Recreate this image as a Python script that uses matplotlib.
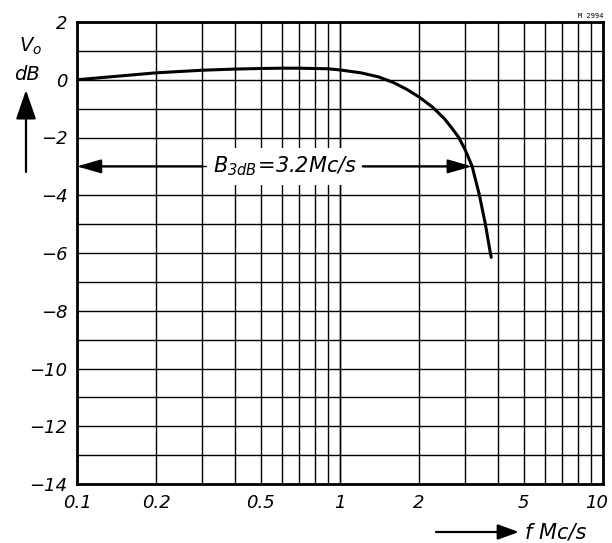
import numpy as np
import matplotlib
matplotlib.use("Agg")
import matplotlib.pyplot as plt
import matplotlib.transforms as mtransforms
from matplotlib.patches import FancyArrowPatch
from matplotlib.ticker import FixedLocator, NullFormatter

plt.rcParams['font.family'] = ['DejaVu Sans']
plt.rcParams['mathtext.fontset'] = 'custom'
plt.rcParams['mathtext.rm'] = 'DejaVu Sans:italic'
plt.rcParams['mathtext.it'] = 'DejaVu Sans:italic'

# frequency response, read in Mc/s and dB
freq = [0.1, 0.2, 0.3, 0.4, 0.5, 0.6, 0.7, 0.9, 1.0, 1.2, 1.4, 1.6, 1.8,
        2.0, 2.25, 2.5, 2.65, 2.83, 3.0, 3.18, 3.39, 3.57, 3.73, 3.76]
gain = [0.0, 0.24, 0.33, 0.37, 0.39, 0.40, 0.40, 0.38, 0.34, 0.24, 0.10,
        -0.10, -0.34, -0.60, -0.95, -1.36, -1.65, -2.0, -2.45, -3.0, -4.0,
        -5.0, -6.0, -6.15]

bw_level = -3.0
bw_text_f = 0.62
bw_left_f = (0.1, 0.30)
bw_right_f = (1.22, 3.17)

x_ticks = [0.1, 0.2, 0.5, 1, 2, 5, 10]
x_labels = ["0.1", "0.2", "0.5", "1", "2", "5", "10"]
x_grid = [m * d for d in (0.1, 1) for m in range(1, 11)]
y_ticks = list(range(2, -15, -2))
y_grid = list(range(2, -15, -1))

fig = plt.figure(figsize=(6.12, 5.43), dpi=100)
ax = fig.add_axes([77 / 612, 1 - 484 / 543, 526 / 612, 462 / 543])
ax.set_xscale("log")
ax.set_xlim(0.1, 10)
ax.set_ylim(-14, 2)

for g in x_grid:
    ax.axvline(g, color="black", lw=1.0, zorder=1)
for g in y_grid:
    ax.axhline(g, color="black", lw=1.0, zorder=1)

ax.xaxis.set_major_locator(FixedLocator(x_ticks))
ax.xaxis.set_minor_locator(FixedLocator([]))
ax.xaxis.set_minor_formatter(NullFormatter())
ax.set_xticklabels(x_labels)
ax.set_yticks(y_ticks)
ax.set_yticklabels([str(v).replace("-", "\u2212") for v in y_ticks])
ax.tick_params(length=0, labelsize=13, pad=7)
for lab in ax.get_xticklabels() + ax.get_yticklabels():
    lab.set_fontstyle("italic")
# keep the last frequency label inside the figure
last = ax.get_xticklabels()[-1]
last.set_transform(last.get_transform() +
                   mtransforms.ScaledTranslation(-6 / 100, 0, fig.dpi_scale_trans))
for s in ax.spines.values():
    s.set_linewidth(2.0)
    s.set_zorder(5)

ax.plot(freq, gain, color="black", lw=2.2, zorder=4, solid_capstyle="round",
        solid_joinstyle="round")

# bandwidth marker
ax.text(bw_text_f, bw_level, r"$B_{3dB}\!=\!3.2Mc/s$", ha="center", va="center",
        fontsize=15, zorder=6,
        bbox=dict(facecolor="white", edgecolor="none", pad=5))
arrow_kw = dict(arrowstyle="-|>,head_length=1.45,head_width=0.42", color="black",
                lw=1.6, shrinkA=0, shrinkB=0)
ax.annotate("", xy=(bw_left_f[0], bw_level), xytext=(bw_left_f[1], bw_level),
            arrowprops=arrow_kw, zorder=7)
ax.annotate("", xy=(bw_right_f[1], bw_level), xytext=(bw_right_f[0], bw_level),
            arrowprops=arrow_kw, zorder=7)

# axis captions with arrows
fig.text(31 / 612, 1 - 46 / 543, r"$V_o$", ha="center", va="center", fontsize=14)
fig.text(27 / 612, 1 - 75 / 543, "dB", ha="center", va="center", fontsize=14,
         fontstyle="italic")
fig.patches.append(FancyArrowPatch(
    (26 / 612, 1 - 172 / 543), (26 / 612, 1 - 90 / 543),
    transform=fig.transFigure, arrowstyle="-|>,head_length=0.9,head_width=0.31",
    color="black", lw=1.6, mutation_scale=20, shrinkA=0, shrinkB=0))
fig.patches.append(FancyArrowPatch(
    (436 / 612, 1 - 532 / 543), (519 / 612, 1 - 532 / 543),
    transform=fig.transFigure, arrowstyle="-|>,head_length=0.72,head_width=0.26",
    color="black", lw=1.6, mutation_scale=18, shrinkA=0, shrinkB=0))
fig.text(525 / 612, 1 - 532 / 543, "f Mc/s", ha="left", va="center", fontsize=15,
         fontstyle="italic")
fig.text(603 / 612, 1 - 16 / 543, "M 2994", ha="right", va="center", fontsize=5,
         family="DejaVu Sans Mono")

fig.savefig("out.png", dpi=100)
